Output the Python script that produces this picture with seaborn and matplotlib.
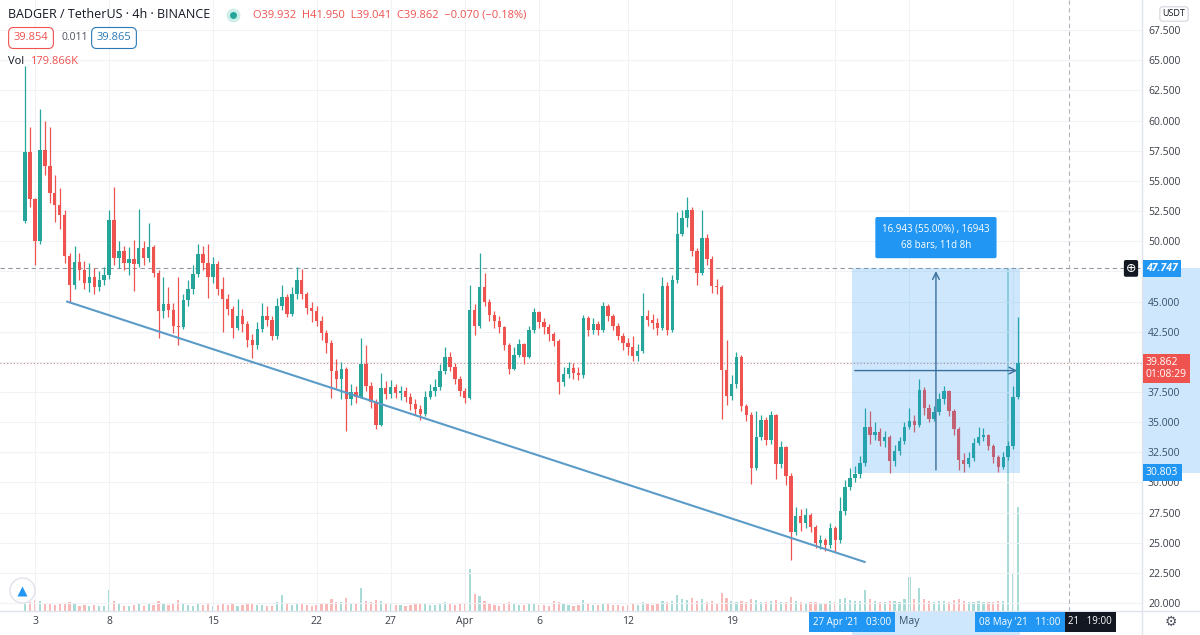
import numpy as np
import pandas as pd
import matplotlib.pyplot as plt
import matplotlib.dates as mdates
import matplotlib.transforms as mtrans
from matplotlib.patches import Rectangle
from matplotlib.lines import Line2D
import seaborn as sns

sns.set_theme(style="white")
plt.rcParams['font.family'] = ['Open Sans', 'DejaVu Sans']

# --- datos (velas de 8h leidas a ojo del grafico) ---
first_open = 51.7
closes = [
    57.4, 53.5, 50.0, 57.6, 56.2, 54.0, 53.0, 52.2, 48.8, 46.4,
    48.3, 47.6, 46.5, 47.0, 46.2, 46.8, 47.2, 51.8, 48.6, 49.2,
    48.2, 48.5, 48.1, 49.4, 48.6, 49.5, 47.4, 44.2, 44.8, 44.3,
    43.0, 42.9, 45.1, 46.0, 47.3, 48.9, 48.2, 47.0, 48.1, 46.0,
    45.2, 44.4, 42.8, 43.8, 43.1, 41.8, 41.4, 42.7, 43.8, 43.5,
    42.1, 44.6, 45.4, 44.0, 45.6, 46.8, 45.6, 44.5, 44.2, 43.4,
    42.4, 41.6, 39.2, 38.6, 39.4, 36.9, 37.5, 37.1, 39.8, 38.0,
    36.7, 34.8, 37.8, 37.3, 37.9, 37.4, 37.6, 37.1, 36.5, 36.1,
    35.7, 37.1, 37.6, 37.9, 39.2, 40.4, 39.6, 38.6, 37.6, 37.0,
    44.3, 43.0, 46.2, 45.0, 43.9, 43.4, 42.9, 41.4, 39.4, 40.6,
    41.5, 40.4, 42.6, 44.1, 43.3, 42.9, 42.3, 41.7, 38.3, 39.0,
    39.5, 39.1, 38.9, 43.6, 42.6, 43.1, 42.6, 44.6, 43.8, 43.0,
    42.1, 41.6, 41.2, 40.5, 40.9, 43.8, 43.5, 43.2, 42.8, 46.3,
    42.6, 46.8, 50.6, 51.9, 52.6, 49.2, 47.4, 50.3, 48.5, 46.3,
    46.2, 39.3, 37.2, 38.2, 40.4, 36.3, 35.6, 31.2, 33.8, 35.2,
    33.5, 35.6, 31.5, 32.9, 30.5, 25.9, 27.2, 26.6, 27.3, 26.3,
    25.0, 25.2, 24.8, 26.2, 25.2, 27.6, 29.6, 30.4, 30.7, 31.6,
    34.6, 33.9, 34.2, 33.4, 33.8, 31.8, 32.6, 33.4, 34.6, 35.1,
    34.8, 37.7, 36.2, 35.3, 35.8, 36.9, 37.6, 35.9, 34.4, 31.9,
    31.5, 32.0, 33.3, 33.8, 33.9, 33.0, 32.1, 31.3, 32.1, 33.0,
    37.1, 39.862,
]
highs = [
    64.5, 59.5, 53.6, 61.0, 60.0, 59.5, 55.5, 54.4, 52.6, 49.0,
    49.6, 49.0, 48.4, 48.2, 47.8, 47.5, 47.9, 52.6, 54.5, 50.0,
    49.6, 49.5, 50.1, 52.7, 50.0, 51.5, 49.7, 47.6, 47.0, 46.2,
    44.9, 47.0, 45.6, 46.8, 48.0, 49.8, 49.6, 49.8, 48.7, 48.4,
    47.0, 45.6, 44.6, 45.2, 44.4, 43.4, 42.3, 43.3, 44.9, 44.6,
    43.8, 45.3, 46.4, 45.6, 46.2, 47.9, 47.7, 45.8, 45.0, 44.6,
    43.8, 42.6, 41.8, 40.2, 40.0, 39.6, 38.2, 38.0, 42.0, 41.4,
    38.3, 36.9, 39.1, 38.4, 38.5, 38.2, 38.0, 37.9, 37.4, 36.9,
    36.4, 37.6, 38.2, 38.6, 39.8, 41.2, 40.8, 39.9, 38.8, 37.8,
    46.4, 44.8, 49.0, 47.4, 45.2, 44.2, 43.8, 43.0, 41.6, 41.2,
    41.9, 41.6, 43.0, 44.5, 44.2, 43.6, 43.1, 42.5, 41.9, 39.6,
    40.0, 39.9, 39.6, 43.9, 43.8, 43.6, 43.4, 45.0, 44.8, 44.0,
    43.2, 42.4, 42.0, 42.1, 41.5, 45.7, 44.3, 44.0, 43.6, 47.0,
    46.6, 47.2, 52.4, 52.6, 53.7, 52.8, 49.4, 52.6, 50.6, 48.8,
    46.9, 46.4, 41.8, 38.9, 40.8, 40.6, 36.5, 35.8, 35.9, 35.6,
    35.4, 35.9, 35.7, 33.4, 33.0, 30.8, 28.0, 27.8, 27.9, 27.5,
    26.5, 25.6, 25.4, 26.6, 26.4, 28.8, 30.2, 31.2, 31.4, 32.2,
    36.2, 35.9, 35.0, 34.5, 34.3, 33.9, 33.1, 33.8, 35.0, 36.2,
    35.6, 38.6, 37.9, 36.5, 36.3, 37.4, 38.0, 37.7, 36.1, 34.6,
    32.4, 32.5, 33.7, 34.6, 34.5, 34.0, 33.2, 32.3, 32.5, 33.4,
    38.0, 43.7,
]
lows = [
    51.5, 52.8, 48.0, 49.8, 55.5, 53.2, 51.6, 51.0, 48.2, 45.0,
    46.0, 46.8, 46.0, 45.8, 45.6, 45.9, 46.4, 46.9, 48.0, 47.8,
    47.6, 47.2, 45.9, 47.9, 48.0, 48.3, 47.0, 42.0, 43.6, 43.7,
    42.4, 41.4, 42.7, 44.6, 45.6, 47.0, 47.6, 45.3, 46.5, 45.5,
    42.5, 43.9, 42.0, 42.6, 42.5, 41.2, 40.3, 41.1, 42.5, 43.0,
    41.8, 41.9, 44.3, 43.7, 43.8, 45.2, 45.2, 44.0, 43.3, 43.0,
    41.8, 40.7, 37.0, 37.8, 36.9, 34.3, 36.4, 36.6, 37.0, 37.6,
    36.2, 34.4, 34.7, 36.9, 37.0, 37.0, 36.8, 36.7, 36.0, 35.6,
    35.2, 35.5, 36.9, 37.2, 37.7, 39.0, 39.2, 38.2, 37.2, 36.6,
    36.9, 42.2, 42.8, 44.6, 43.4, 42.8, 42.4, 41.0, 39.0, 39.3,
    40.4, 39.8, 40.3, 42.4, 42.8, 42.3, 41.7, 41.3, 37.3, 38.0,
    38.7, 38.6, 38.5, 38.7, 42.1, 42.3, 42.2, 42.5, 43.4, 42.6,
    41.8, 41.0, 40.6, 40.1, 40.1, 40.7, 43.0, 42.7, 42.2, 42.6,
    42.2, 42.5, 46.5, 50.4, 51.2, 48.8, 46.4, 47.2, 48.0, 45.7,
    45.6, 35.3, 36.4, 36.8, 37.8, 35.9, 35.1, 29.9, 31.0, 33.5,
    33.1, 33.2, 30.3, 31.2, 29.8, 23.6, 25.6, 26.0, 26.2, 25.9,
    24.6, 24.5, 24.3, 24.6, 24.2, 25.0, 27.3, 29.4, 30.0, 30.4,
    31.4, 33.2, 33.5, 33.0, 32.9, 30.8, 31.4, 32.3, 33.2, 34.4,
    34.2, 34.6, 35.6, 35.0, 35.1, 35.6, 36.5, 35.5, 33.9, 31.0,
    30.9, 31.3, 31.8, 33.1, 33.4, 32.7, 31.6, 30.9, 31.1, 31.9,
    32.8, 36.9,
]
volumes = [
    260, 150, 180, 170, 120, 110, 100, 130, 120, 150,
    110, 90, 95, 85, 100, 90, 80, 350, 160, 110,
    90, 85, 100, 120, 90, 110, 95, 170, 120, 100,
    110, 180, 120, 100, 90, 120, 95, 110, 85, 100,
    120, 95, 110, 90, 100, 120, 130, 100, 95, 85,
    90, 140, 270, 110, 100, 130, 120, 95, 90, 100,
    110, 130, 200, 150, 140, 210, 130, 110, 370, 160,
    150, 180, 170, 120, 110, 100, 95, 90, 100, 110,
    120, 110, 100, 95, 130, 150, 120, 100, 110, 130,
    680, 280, 250, 160, 120, 100, 90, 110, 140, 120,
    100, 95, 130, 120, 100, 95, 90, 160, 140, 110,
    100, 90, 95, 180, 120, 100, 95, 130, 110, 100,
    95, 90, 100, 110, 95, 150, 120, 100, 110, 160,
    140, 170, 270, 200, 180, 210, 170, 190, 150, 160,
    130, 290, 220, 160, 150, 170, 140, 200, 180, 150,
    140, 160, 180, 150, 140, 230, 170, 150, 130, 140,
    150, 120, 130, 160, 140, 200, 220, 180, 170, 160,
    350, 200, 160, 150, 140, 170, 160, 150, 200, 560,
    190, 370, 200, 160, 150, 170, 160, 150, 180, 200,
    170, 150, 140, 160, 150, 140, 150, 160, 170, 5600,
    600, 1700,
]

price_ticks = [20.0, 22.5, 25.0, 27.5, 30.0, 32.5, 35.0, 37.5, 40.0, 42.5,
               45.0, 47.5, 50.0, 52.5, 55.0, 57.5, 60.0, 62.5, 65.0, 67.5]
# etiquetas tapadas por las marcas de la escala (40.000 y 47.500)
price_labels = ['' if p in (40.0, 47.5) else f'{p:.3f}' for p in price_ticks]
date_ticks = ['2021-03-03', '2021-03-08', '2021-03-15', '2021-03-22', '2021-03-27',
              '2021-04-01', '2021-04-06', '2021-04-12', '2021-04-19', '2021-04-26',
              '2021-05-01', '2021-05-08']
date_labels = ['3', '8', '15', '22', '27', 'Apr', '6', '12', '19', '', 'May', '']

trend_times = ['2021-03-05 03:50', '2021-04-28 00:00']
trend_prices = [45.0, 23.4]

range_start = pd.Timestamp('2021-04-27 03:00')
range_end = pd.Timestamp('2021-05-08 11:00')
range_low = 30.803
range_high = 47.747
cross_time = pd.Timestamp('2021-05-11 19:00')
cross_price = 47.747
last_price = 39.862

UP = '#26a69a'
DOWN = '#ef5350'
BLUE = '#2196f3'
TXT = '#131722'
W, H = 1200, 635


def fx(px):
    return px / W


def fy(py):
    return 1 - py / H


times = pd.date_range('2021-03-02 08:00', periods=len(closes), freq='8h')
opens = [first_open] + closes[:-1]
o = np.array(opens)
c = np.array(closes)
colors = [UP if cc >= oo else DOWN for oo, cc in zip(o, c)]

fig = plt.figure(figsize=(12, 6.35), dpi=100)
rect = [0, 24 / H, 1142 / W, 611 / H]
xlim = (mdates.date2num(pd.Timestamp('2021-02-28 15:18')),
        mdates.date2num(pd.Timestamp('2021-05-16 16:42')))

# volumen (detras)
axv = fig.add_axes(rect)
axv.bar(times, volumes, width=0.15, color=colors, alpha=0.4, linewidth=0)
axv.set_xlim(xlim)
axv.set_ylim(0, 10000)
axv.axis('off')

# precio
ax = fig.add_axes(rect)
ax.patch.set_visible(False)
ax.vlines(times, lows, highs, colors=colors, linewidth=0.9, zorder=3)
body_h = np.maximum(np.abs(c - o), 0.06)
ax.bar(times, body_h, bottom=np.minimum(o, c), width=0.23, color=colors,
       linewidth=0, zorder=4)

trend = pd.DataFrame({'time': pd.to_datetime(trend_times), 'price': trend_prices})
sns.lineplot(data=trend, x='time', y='price', ax=ax, color='#5b9bc8',
             linewidth=1.5, zorder=5)

ax.set_xlim(xlim)
ax.set_ylim(19.34, 70.0)
ax.set_xlabel('')
ax.set_ylabel('')
for s in ax.spines.values():
    s.set_visible(False)

ax.set_yticks(price_ticks)
ax.set_yticklabels(price_labels)
ax.yaxis.tick_right()
ax.set_xticks(mdates.date2num(pd.to_datetime(date_ticks)))
ax.set_xticklabels(date_labels)
ax.tick_params(axis='y', length=0, pad=4.3, labelsize=7.5, labelcolor='#3b3e48')
ax.tick_params(axis='x', length=0, pad=3.5, labelsize=7.5, labelcolor='#3b3e48')
ax.grid(True, color='#f0f2f6', linewidth=0.8)
ax.set_axisbelow(True)

# caja de rango de precio/fecha
x0 = mdates.date2num(range_start)
x1 = mdates.date2num(range_end)
xm = (x0 + x1) / 2
ym = (range_low + range_high) / 2
ax.add_patch(Rectangle((x0, range_low), x1 - x0, range_high - range_low,
                       facecolor=BLUE, alpha=0.22, edgecolor='none', zorder=6))
ax.annotate('', xy=(xm, range_high), xytext=(xm, range_low),
            arrowprops=dict(arrowstyle='->', color='#3a6f9c', lw=1.0), zorder=7)
ax.annotate('', xy=(x1, ym), xytext=(x0, ym),
            arrowprops=dict(arrowstyle='->', color='#3a6f9c', lw=1.0), zorder=7)
ax.text(xm, 50.3, '16.943 (55.00%) , 16943\n68 bars, 11d 8h', ha='center', va='center',
        fontsize=7, color='white', linespacing=1.7, zorder=8,
        bbox=dict(boxstyle='round,pad=0.7,rounding_size=0.2', fc=BLUE, ec='none'))

# crosshair y linea de precio
ax.axhline(cross_price, color='#9598a1', lw=0.8, ls=(0, (4, 3)), zorder=2)
ax.axvline(mdates.date2num(cross_time), color='#b2b5be', lw=0.8, ls=(0, (4, 3)), zorder=2)
ax.axhline(last_price, color='#c98a8a', lw=0.8, ls=(0, (1, 2)), zorder=2)

# escala de precios
yblend = mtrans.blended_transform_factory(fig.transFigure, ax.transData)
fig.add_artist(Rectangle((fx(1142), range_low), fx(58), range_high - range_low,
                         transform=yblend, facecolor=BLUE, alpha=0.22, edgecolor='none'))
fig.text(fx(1146), cross_price, '47.747', transform=yblend, ha='left', va='center',
         fontsize=7.5, color='white', style='italic', weight='bold',
         bbox=dict(boxstyle='square,pad=0.3', fc=BLUE, ec='none'))
fig.text(fx(1131), cross_price, '\u2295', transform=yblend, ha='center', va='center',
         fontsize=9, color='white', family='DejaVu Sans',
         bbox=dict(boxstyle='round,pad=0.15', fc='#131722', ec='none'))
fig.text(fx(1146), last_price + 0.5, '39.862\n01:08:29', transform=yblend, ha='left',
         va='top', fontsize=7.5, color='white', linespacing=1.1,
         bbox=dict(boxstyle='square,pad=0.3', fc=DOWN, ec='none'))
fig.text(fx(1146), range_low, '30.803', transform=yblend, ha='left', va='center',
         fontsize=7.5, color='white',
         bbox=dict(boxstyle='square,pad=0.3', fc=BLUE, ec='none'))
fig.text(fx(1174), fy(14), 'USDT', ha='center', va='center', fontsize=6.5, color=TXT,
         bbox=dict(boxstyle='round,pad=0.3', fc='white', ec='#d1d4dc', lw=0.8))

# escala de tiempo
xblend = mtrans.blended_transform_factory(ax.transData, fig.transFigure)
fig.add_artist(Rectangle((x0, 0), x1 - x0, 24 / H, transform=xblend,
                         facecolor=BLUE, alpha=0.22, edgecolor='none'))
# etiqueta del crosshair, casi tapada por la etiqueta azul
fig.text(fx(1068), fy(622), "21   19:00", ha='left', va='center', fontsize=7,
         color='white', bbox=dict(boxstyle='square,pad=0.45', fc='#131722', ec='none'))
for t, lab in [(range_start, "27 Apr '21   03:00"), (range_end, "08 May '21   11:00")]:
    fig.text(mdates.date2num(t), fy(622), lab, transform=xblend, ha='center',
             va='center', fontsize=7, color='white',
             bbox=dict(boxstyle='square,pad=0.45', fc=BLUE, ec='none'))
fig.text(fx(1171), fy(622), '\u2699', ha='center', va='center', fontsize=10,
         color='#50535e', family='DejaVu Sans')

# separadores
fig.add_artist(Line2D([fx(1142), fx(1142)], [0, 1], color='#e0e3eb', lw=1))
fig.add_artist(Line2D([0, 1], [fy(611), fy(611)], color='#e0e3eb', lw=1))

# encabezado
fig.text(fx(8), fy(15), 'BADGER / TetherUS \u00b7 4h \u00b7 BINANCE', fontsize=9,
         va='center', color=TXT)
fig.add_artist(Line2D([fx(233)], [fy(15)], marker='o', ms=10, color='#cdeee9',
                      mec='none', transform=fig.transFigure))
fig.add_artist(Line2D([fx(233)], [fy(15)], marker='o', ms=5, color=UP,
                      mec='none', transform=fig.transFigure))
fig.text(fx(253), fy(15), 'O39.932  H41.950  L39.041  C39.862  \u22120.070 (\u22120.18%)',
         fontsize=8, va='center', color=DOWN)
fig.text(fx(31), fy(38), '39.854', ha='center', va='center', fontsize=8, color=DOWN,
         bbox=dict(boxstyle='round,pad=0.45', fc='white', ec=DOWN, lw=0.8))
fig.text(fx(62), fy(38), '0.011', va='center', fontsize=7.5, color='#50535e')
fig.text(fx(114), fy(38), '39.865', ha='center', va='center', fontsize=8, color='#2a7ab8',
         bbox=dict(boxstyle='round,pad=0.45', fc='white', ec='#2a7ab8', lw=0.8))
fig.text(fx(8), fy(62), 'Vol', va='center', fontsize=8, color=TXT)
fig.text(fx(30), fy(62), '179.866K', va='center', fontsize=8, color=DOWN)

# logo abajo a la izquierda
fig.add_artist(Line2D([fx(22)], [fy(590)], marker='o', ms=18, color='white',
                      mec='#e0e3eb', transform=fig.transFigure))
fig.add_artist(Line2D([fx(22)], [fy(591)], marker='^', ms=7, color='#2196f3',
                      mec='none', transform=fig.transFigure))

fig.savefig('out.png', dpi=100)
plt.close()
